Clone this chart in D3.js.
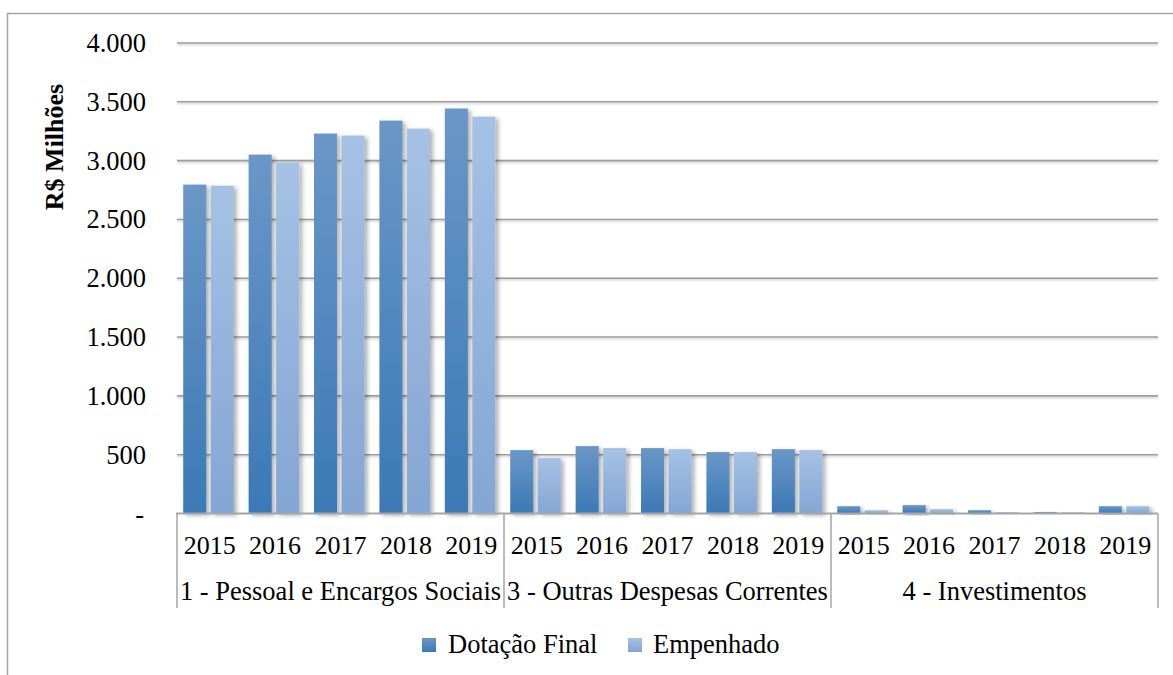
<!DOCTYPE html>
<html>
<head>
<meta charset="utf-8">
<script src="https://cdn.jsdelivr.net/npm/d3@7"></script>
<style>
  html, body { margin: 0; padding: 0; background: #fff; }
</style>
</head>
<body>
<svg id="chart" width="1173" height="675"></svg>
<script>
// Budget groups and years
const groups = ["1 - Pessoal e Encargos Sociais", "3 - Outras Despesas Correntes", "4 - Investimentos"];
const years = ["2015", "2016", "2017", "2018", "2019"];
const seriesNames = ["Dotação Final", "Empenhado"];

// Values in R$ millions, per group, per year
const dotacaoFinal = [
  [2796, 3051, 3230, 3340, 3443],
  [539, 573, 556, 522, 547],
  [62, 71, 28, 12, 62]
];
const empenhado = [
  [2787, 2983, 3213, 3272, 3374],
  [471, 556, 547, 522, 539],
  [28, 37, 11, 10, 62]
];

const yTicks = [0, 500, 1000, 1500, 2000, 2500, 3000, 3500, 4000];

const rows = [];
groups.forEach((g, gi) => years.forEach((yr, yi) => {
  rows.push({ key: g + "|" + yr, group: g, year: yr, values: [dotacaoFinal[gi][yi], empenhado[gi][yi]] });
}));

const FONT = "'Liberation Serif', 'Times New Roman', Times, 'DejaVu Serif', serif";
const svg = d3.select("#chart").attr("font-family", FONT);
const plotLeft = 177, plotRight = 1158, plotTop = 43, plotBottom = 513.5;

// Outer frame
svg.append("rect")
  .attr("x", 7.5).attr("y", 13.5).attr("width", 1200).attr("height", 700)
  .attr("fill", "none").attr("stroke", "#a6a6a6").attr("stroke-width", 1.5);

const defs = svg.append("defs");
const gradD = defs.append("linearGradient").attr("id", "gradD").attr("x1", 0).attr("y1", 0).attr("x2", 0).attr("y2", 1);
gradD.append("stop").attr("offset", "0%").attr("stop-color", "#6a97c7");
gradD.append("stop").attr("offset", "100%").attr("stop-color", "#3b79b6");
const gradE = defs.append("linearGradient").attr("id", "gradE").attr("x1", 0).attr("y1", 0).attr("x2", 0).attr("y2", 1);
gradE.append("stop").attr("offset", "0%").attr("stop-color", "#a5c1e5");
gradE.append("stop").attr("offset", "100%").attr("stop-color", "#84a6d4");
const shadow = defs.append("filter").attr("id", "shadow")
  .attr("x", "-30%").attr("y", "-10%").attr("width", "160%").attr("height", "130%");
shadow.append("feDropShadow").attr("dx", 3).attr("dy", 2).attr("stdDeviation", 2.2)
  .attr("flood-color", "#000").attr("flood-opacity", 0.3);
const lineShadow = defs.append("filter").attr("id", "lineShadow")
  .attr("filterUnits", "userSpaceOnUse")
  .attr("x", 0).attr("y", 0).attr("width", 1173).attr("height", 675);
lineShadow.append("feDropShadow").attr("dx", 0).attr("dy", 1.2).attr("stdDeviation", 0.8)
  .attr("flood-color", "#000").attr("flood-opacity", 0.25);

const fills = ["url(#gradD)", "url(#gradE)"];

const y = d3.scaleLinear().domain([0, 4000]).range([plotBottom, plotTop]);
const x0 = d3.scaleBand().domain(rows.map(r => r.key)).range([plotLeft, plotRight]).padding(0);
const x1 = d3.scaleBand().domain(seriesNames).range([0, x0.bandwidth()])
  .paddingInner(0.16).paddingOuter(0.27).align(0.42);

// Gridlines
svg.append("g").selectAll("line").data(yTicks.filter(t => t > 0)).join("line")
  .attr("x1", plotLeft).attr("x2", plotRight)
  .attr("y1", d => y(d)).attr("y2", d => y(d))
  .attr("stroke", "#9d9d9d").attr("stroke-width", 1.6)
  .attr("filter", "url(#lineShadow)");

// Y tick labels
svg.append("g").selectAll("text").data(yTicks).join("text")
  .attr("x", 146).attr("y", d => y(d))
  .attr("dy", "0.34em").attr("text-anchor", "end")
  .attr("font-size", 26.5)
  .text(d => d === 0 ? "-" : d3.format(",")(d).replace(/,/g, "."))
  .attr("dx", d => d === 0 ? -2 : 0);

// Y axis title
svg.append("text")
  .attr("transform", `translate(54,147) rotate(-90)`)
  .attr("text-anchor", "middle")
  .attr("dy", "0.35em")
  .attr("font-size", 26).attr("font-weight", "bold")
  .text("R$ Milhões");

// Bars
const barGroups = svg.append("g").selectAll("g").data(rows).join("g")
  .attr("transform", d => `translate(${x0(d.key)},0)`);
barGroups.selectAll("rect").data(d => d.values.map((v, i) => ({ v, i }))).join("rect")
  .attr("x", d => x1(seriesNames[d.i]))
  .attr("width", x1.bandwidth())
  .attr("y", d => y(d.v))
  .attr("height", d => y(0) - y(d.v))
  .attr("fill", d => fills[d.i])
  .attr("filter", "url(#shadow)");

// Category axis: baseline, separators, labels
const axisBottom = 608;
svg.append("line").attr("x1", plotLeft - 1).attr("x2", plotRight).attr("y1", plotBottom).attr("y2", plotBottom)
  .attr("stroke", "#a6a6a6").attr("stroke-width", 2);
const sepX = [0, 5, 10].map(i => x0(rows[i].key)).concat([plotRight]);
svg.append("g").selectAll("line").data(sepX).join("line")
  .attr("x1", d => d).attr("x2", d => d)
  .attr("y1", plotBottom).attr("y2", axisBottom)
  .attr("stroke", "#a6a6a6").attr("stroke-width", 1.5);

svg.append("g").selectAll("text").data(rows).join("text")
  .attr("x", d => x0(d.key) + x0.bandwidth() / 2)
  .attr("y", 554)
  .attr("text-anchor", "middle")
  .attr("font-size", 26)
  .text(d => d.year);

svg.append("g").selectAll("text").data(groups).join("text")
  .attr("x", (d, i) => (sepX[i] + sepX[i + 1]) / 2)
  .attr("y", 600)
  .attr("text-anchor", "middle")
  .attr("font-size", 26.5)
  .text(d => d);

// Legend
const legendItems = [
  { name: seriesNames[0], fill: fills[0], x: 422, tx: 26 },
  { name: seriesNames[1], fill: fills[1], x: 628, tx: 25 }
];
const lg = svg.append("g").selectAll("g").data(legendItems).join("g")
  .attr("transform", d => `translate(${d.x},638)`);
lg.append("rect").attr("width", 14).attr("height", 14).attr("fill", d => d.fill);
lg.append("text").attr("x", d => d.tx).attr("y", 15)
  .attr("font-size", 26.5)
  .text(d => d.name);
</script>
</body>
</html>
